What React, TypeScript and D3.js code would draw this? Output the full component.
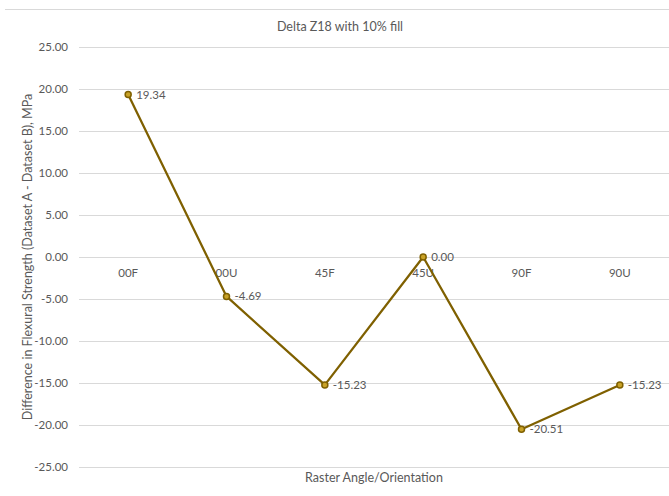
import React from "react";
import { scaleBand, scaleLinear, line, range } from "d3";

const categories = ["00F", "00U", "45F", "45U", "90F", "90U"];
const values = [19.34, -4.69, -15.23, 0.0, -20.51, -15.23];
const yTicks = range(-25, 26, 5);

const App = () => {
  const width = 669;
  const height = 496;
  const margin = { top: 47, right: 0, bottom: 29, left: 79 };
  const font = "Lato, 'Open Sans', sans-serif";
  const gray = "#595959";
  const color = "#7F6000";

  const xScale = scaleBand()
    .domain(categories)
    .range([margin.left, width - margin.right]);
  const yScale = scaleLinear()
    .domain([-25, 25])
    .range([height - margin.bottom - 0, margin.top]);
  // center of each band
  const cx = (c: string) => (xScale(c) ?? 0) + xScale.bandwidth() / 2;

  const pts = categories.map((c, i) => ({ c, v: values[i] }));
  const path = line<{ c: string; v: number }>()
    .x((d) => cx(d.c))
    .y((d) => yScale(d.v))(pts);

  return (
    <svg
      width={width}
      height={height}
      style={{ position: "absolute", left: 0, top: 0, background: "#fff" }}
    >
      <line x1={5} x2={width} y1={9.5} y2={9.5} stroke="#d9d9d9" />
      <text x={340} y={31} textAnchor="middle" fontFamily={font} fontSize={12.5} fill={gray}>
        Delta Z18 with 10% fill
      </text>

      {yTicks.map((t) => (
        <g key={t}>
          <line
            x1={margin.left}
            x2={width}
            y1={Math.round(yScale(t)) + 0.5}
            y2={Math.round(yScale(t)) + 0.5}
            stroke="#d9d9d9"
            strokeWidth={1}
          />
          <text
            x={68}
            y={yScale(t)}
            dy="0.35em"
            textAnchor="end"
            fontFamily={font}
            fontSize={11.5}
            fill={gray}
          >
            {t.toFixed(2)}
          </text>
        </g>
      ))}

      {categories.map((c) => (
        <text
          key={c}
          x={cx(c)}
          y={yScale(0) + 16}
          dy="0.35em"
          textAnchor="middle"
          fontFamily={font}
          fontSize={11.5}
          fill={gray}
        >
          {c}
        </text>
      ))}

      <path d={path ?? ""} fill="none" stroke={color} strokeWidth={2.25} strokeLinejoin="round" />

      {pts.map((d) => (
        <g key={d.c}>
          <circle cx={cx(d.c)} cy={yScale(d.v)} r={3} fill="#C9A227" stroke={color} strokeWidth={1.5} />
          <text
            x={cx(d.c) + 8}
            y={yScale(d.v)}
            dy="0.35em"
            fontFamily={font}
            fontSize={11.5}
            fill={gray}
          >
            {d.v.toFixed(2)}
          </text>
        </g>
      ))}

      <text x={374} y={482} textAnchor="middle" fontFamily={font} fontSize={12.5} fill={gray}>
        Raster Angle/Orientation
      </text>
      <text
        transform={`translate(32,${yScale(0)}) rotate(-90)`}
        textAnchor="middle"
        fontFamily={font}
        fontSize={12.5}
        fill={gray}
      >
        Difference in Flexural Strength (Dataset A - Dataset B), MPa
      </text>
    </svg>
  );
};

export default App;
